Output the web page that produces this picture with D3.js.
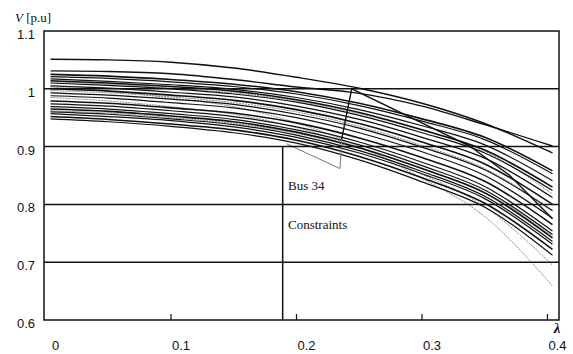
<!DOCTYPE html>
<html>
<head>
<meta charset="utf-8">
<script src="https://cdn.jsdelivr.net/npm/d3@7"></script>
<style>
  body { margin: 0; background: #fff; }
  svg { display: block; }
  .tick-lbl { font-family: "Liberation Sans", Arial, sans-serif; font-size: 13px; fill: #111; }
  .serif { font-family: "Liberation Serif", "Times New Roman", serif; fill: #111; }
</style>
</head>
<body>
<div id="chart"></div>
<script>
// lambda sample points shared by every curve
const lambdaPts = [0.004, 0.05, 0.1, 0.15, 0.2, 0.25, 0.3, 0.35, 0.404];

// upper two bus voltages
const topA = [1.051, 1.050, 1.046, 1.036, 1.020, 1.001, 0.975, 0.940, 0.889];
const topB = [1.031, 1.030, 1.026, 1.016, 1.003, 0.992, 0.970, 0.938, 0.901];

// main bundle of bus voltages (black)
const busBundle = [
  [1.025, 1.022, 1.016, 1.008, 0.995, 0.975, 0.948, 0.916, 0.858],
  [1.021, 1.018, 1.012, 1.004, 0.991, 0.971, 0.944, 0.912, 0.853],
  [1.017, 1.013, 1.007, 0.999, 0.985, 0.964, 0.936, 0.903, 0.841],
  [1.014, 1.010, 1.004, 0.996, 0.981, 0.959, 0.929, 0.894, 0.830],
  [1.010, 1.006, 1.000, 0.991, 0.977, 0.954, 0.924, 0.889, 0.824],
  [1.005, 1.001, 0.994, 0.986, 0.970, 0.947, 0.916, 0.880, 0.812],
  [1.000, 0.996, 0.989, 0.980, 0.964, 0.940, 0.908, 0.870, 0.800],
  [0.993, 0.989, 0.982, 0.973, 0.956, 0.932, 0.899, 0.860, 0.789],
  [0.988, 0.984, 0.976, 0.967, 0.950, 0.924, 0.891, 0.850, 0.776],
  [0.979, 0.975, 0.967, 0.958, 0.941, 0.915, 0.881, 0.840, 0.765],
  [0.974, 0.970, 0.962, 0.952, 0.934, 0.908, 0.873, 0.831, 0.754],
  [0.969, 0.965, 0.957, 0.947, 0.929, 0.903, 0.867, 0.825, 0.748],
  [0.965, 0.961, 0.953, 0.943, 0.925, 0.898, 0.862, 0.820, 0.742],
  [0.960, 0.956, 0.948, 0.938, 0.920, 0.893, 0.857, 0.814, 0.736],
  [0.957, 0.952, 0.945, 0.934, 0.916, 0.889, 0.853, 0.810, 0.731],
  [0.952, 0.947, 0.939, 0.929, 0.911, 0.883, 0.846, 0.802, 0.722],
  [0.948, 0.943, 0.935, 0.924, 0.906, 0.877, 0.839, 0.795, 0.712]
];

// lighter (grey) curves inside the bundle
const greyBundle = [
  [1.012, 1.008, 1.001, 0.993, 0.979, 0.957, 0.928, 0.892, 0.818],
  [1.003, 0.996, 0.984, 0.969, 0.941, 0.900, 0.845, 0.779, 0.659],
  [0.997, 0.993, 0.986, 0.976, 0.960, 0.935, 0.902, 0.862, 0.790],
  [0.985, 0.979, 0.969, 0.956, 0.933, 0.898, 0.852, 0.796, 0.695],
  [0.962, 0.958, 0.950, 0.940, 0.923, 0.897, 0.862, 0.821, 0.745]
];

// bus 34 trace around the constraint
const bus34DipL = [0.192, 0.2347, 0.236];
const bus34DipV = [0.905, 0.862, 0.913];
const bus34JumpL = [0.236, 0.244, 0.338, 0.37, 0.404];
const bus34JumpV = [0.913, 1.0, 0.901, 0.85, 0.775];

const constraintL = 0.189;
const gridV = [0.7, 0.8, 0.9, 1.0];
const yTicks = [0.6, 0.7, 0.8, 0.9, 1, 1.1];
const yTickLbl = ["0.6", "0.7", "0.8", "0.9", "1", "1.1"];
const xTicks = [0, 0.1, 0.2, 0.3, 0.4];
const xTickLbl = ["0", "0.1", "0.2", "0.3", "0.4"];

const W = 573, H = 354;
const svg = d3.select("#chart").append("svg").attr("width", W).attr("height", H);

const x = d3.scaleLinear().domain([-0.0012, 0.4092]).range([44, 559]);
const y = d3.scaleLinear().domain([0.6, 1.1]).range([320, 31]);

const line = d3.line()
    .x(d => x(d[0]))
    .y(d => y(d[1]))
    .curve(d3.curveMonotoneX);
const straight = d3.line().x(d => x(d[0])).y(d => y(d[1]));

function pts(vals) { return lambdaPts.map((l, i) => [l, vals[i]]); }

// grey curves first
svg.selectAll("path.grey")
    .data(greyBundle)
    .enter().append("path")
    .attr("class", "grey")
    .attr("d", d => line(pts(d)))
    .attr("fill", "none")
    .attr("stroke", "#8a8a8a")
    .attr("stroke-width", 1)
    .attr("stroke-dasharray", "2,1");

svg.selectAll("path.bus")
    .data(busBundle)
    .enter().append("path")
    .attr("class", "bus")
    .attr("d", d => line(pts(d)))
    .attr("fill", "none")
    .attr("stroke", "#111")
    .attr("stroke-width", (d, i) => (i % 3 === 0 ? 1.6 : 1.2));

svg.selectAll("path.top")
    .data([topA, topB])
    .enter().append("path")
    .attr("class", "top")
    .attr("d", d => line(pts(d)))
    .attr("fill", "none")
    .attr("stroke", "#111")
    .attr("stroke-width", 1.4);

// bus 34
svg.append("path")
    .attr("d", straight(bus34DipL.map((l, i) => [l, bus34DipV[i]])))
    .attr("fill", "none")
    .attr("stroke", "#777")
    .attr("stroke-width", 1);
svg.append("path")
    .attr("d", straight(bus34JumpL.map((l, i) => [l, bus34JumpV[i]])))
    .attr("fill", "none")
    .attr("stroke", "#111")
    .attr("stroke-width", 1.4);

// grid lines
svg.selectAll("line.grid")
    .data(gridV)
    .enter().append("line")
    .attr("x1", x.range()[0]).attr("x2", x.range()[1])
    .attr("y1", d => y(d)).attr("y2", d => y(d))
    .attr("stroke", "#111")
    .attr("stroke-width", 1.5);

// constraint vertical line
svg.append("line")
    .attr("x1", x(constraintL)).attr("x2", x(constraintL))
    .attr("y1", y(0.9)).attr("y2", y(0.6))
    .attr("stroke", "#111")
    .attr("stroke-width", 1.5);

// frame
svg.append("rect")
    .attr("x", 44).attr("y", 31)
    .attr("width", 559 - 44).attr("height", 320 - 31)
    .attr("fill", "none")
    .attr("stroke", "#111")
    .attr("stroke-width", 1.5);

// bottom ticks (inward)
svg.selectAll("line.xt")
    .data(xTicks.slice(1))
    .enter().append("line")
    .attr("x1", d => x(d)).attr("x2", d => x(d))
    .attr("y1", 320).attr("y2", 314)
    .attr("stroke", "#111")
    .attr("stroke-width", 1.2);

// tick labels
svg.selectAll("text.yl")
    .data(yTicks)
    .enter().append("text")
    .attr("class", "tick-lbl")
    .attr("x", 35)
    .attr("y", d => y(d) + 8)
    .attr("text-anchor", "end")
    .text((d, i) => yTickLbl[i]);

svg.selectAll("text.xl")
    .data(xTicks)
    .enter().append("text")
    .attr("class", "tick-lbl")
    .attr("x", d => x(d) + 10)
    .attr("y", 350)
    .attr("text-anchor", "middle")
    .text((d, i) => xTickLbl[i]);

// axis titles
const yt = svg.append("text").attr("class", "serif").attr("x", 15).attr("y", 22).attr("font-size", 13);
yt.append("tspan").attr("font-style", "italic").text("V");
yt.append("tspan").text(" [p.u]");

svg.append("text").attr("class", "serif")
    .attr("x", 557).attr("y", 333)
    .attr("text-anchor", "middle")
    .attr("font-size", 15)
    .attr("font-style", "italic")
    .attr("font-weight", "bold")
    .text("λ");

svg.append("text").attr("class", "serif")
    .attr("x", 288).attr("y", 190)
    .attr("font-size", 13)
    .text("Bus 34");
svg.append("text").attr("class", "serif")
    .attr("x", 288).attr("y", 229)
    .attr("font-size", 13)
    .text("Constraints");
</script>
</body>
</html>
